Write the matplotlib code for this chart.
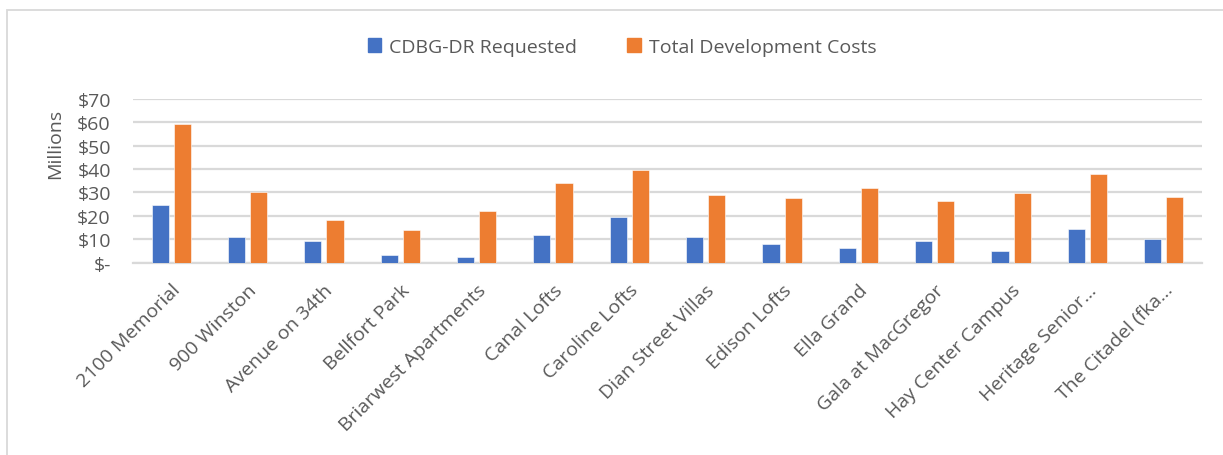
import matplotlib
matplotlib.use("Agg")
import matplotlib.pyplot as plt
import matplotlib.transforms as mtransforms
import numpy as np
from matplotlib.patches import Rectangle

categories = ["2100 Memorial", "900 Winston", "Avenue on 34th", "Bellfort Park",
              "Briarwest Apartments", "Canal Lofts", "Caroline Lofts", "Dian Street Villas",
              "Edison Lofts", "Ella Grand", "Gala at MacGregor", "Hay Center Campus",
              "Heritage Senior\u2026", "The Citadel (fka\u2026"]
cdbg_requested = [24.8, 11.0, 9.0, 3.4, 2.2, 11.8, 19.5, 10.8, 8.0, 6.2, 9.2, 4.8, 14.2, 10.1]
total_costs = [59.1, 30.0, 18.1, 14.0, 22.1, 34.2, 39.8, 28.8, 27.7, 31.8, 26.5, 29.7, 37.8, 28.1]
y_ticks = [0, 10, 20, 30, 40, 50, 60, 70]
y_labels = ["$-", "$10", "$20", "$30", "$40", "$50", "$60", "$70"]
series_names = ["CDBG-DR Requested", "Total Development Costs"]

BLUE = "#4472C4"
ORANGE = "#ED7D31"
TXT = "#595959"
GRID = "#D9D9D9"
FONT = ["Open Sans", "DejaVu Sans"]

plt.rcParams['font.family'] = FONT

W, H = 1223, 456
fig = plt.figure(figsize=(W / 100, H / 100), dpi=100)

# chart border (left & top visible, extends off-image)
fig.add_artist(Rectangle((7 / W, -0.1), 1.2, 1 - 11 / H + 0.1, transform=fig.transFigure,
                         fill=False, edgecolor=GRID, linewidth=1.3))

left, right = 133 / W, 1202 / W
bottom, top = 1 - 263.5 / H, 1 - 100 / H
ax = fig.add_axes([left, bottom, right - left, top - bottom])

x = np.arange(len(categories))
bw = 0.225
off = 0.145
ax.bar(x - off, cdbg_requested, width=bw, color=BLUE, edgecolor="white", linewidth=0.4, zorder=3)
ax.bar(x + off, total_costs, width=bw, color=ORANGE, edgecolor="white", linewidth=0.4, zorder=3)

ax.set_xlim(-0.5, len(categories) - 0.5)
ax.set_ylim(0, 70)
ax.set_yticks(y_ticks)
ax.set_yticklabels(y_labels, color=TXT, fontsize=14)
ax.yaxis.grid(True, color=GRID, linewidth=1.6, zorder=0)
ax.set_axisbelow(True)
for s in ["top", "right", "left"]:
    ax.spines[s].set_visible(False)
ax.spines["bottom"].set_color(GRID)
ax.spines["bottom"].set_linewidth(1.6)
ax.tick_params(axis="both", length=0)
ax.tick_params(axis="y", pad=16)

ax.set_xticks(x)
ax.set_xticklabels(categories, rotation=45, ha="right", va="top", rotation_mode="anchor",
                   color=TXT, fontsize=14)
ax.tick_params(axis="x", pad=8)
shift = mtransforms.ScaledTranslation(0 / 100, -7 / 100, fig.dpi_scale_trans)
for lbl in ax.get_xticklabels():
    lbl.set_transform(lbl.get_transform() + shift)

fig.text(55.5 / W, 1 - 144 / H, "Millions", rotation=90, ha="center", va="center",
         color=TXT, fontsize=14)

handles = [Rectangle((0, 0), 1, 1, color=BLUE), Rectangle((0, 0), 1, 1, color=ORANGE)]
fig.legend(handles, series_names, loc="center", bbox_to_anchor=(622 / W, 1 - 48 / H),
           ncol=2, frameon=False, fontsize=14, labelcolor=TXT,
           handlelength=0.7, handleheight=0.7, handletextpad=0.4, columnspacing=2.6)

fig.savefig("out.png", dpi=100, facecolor="white")
